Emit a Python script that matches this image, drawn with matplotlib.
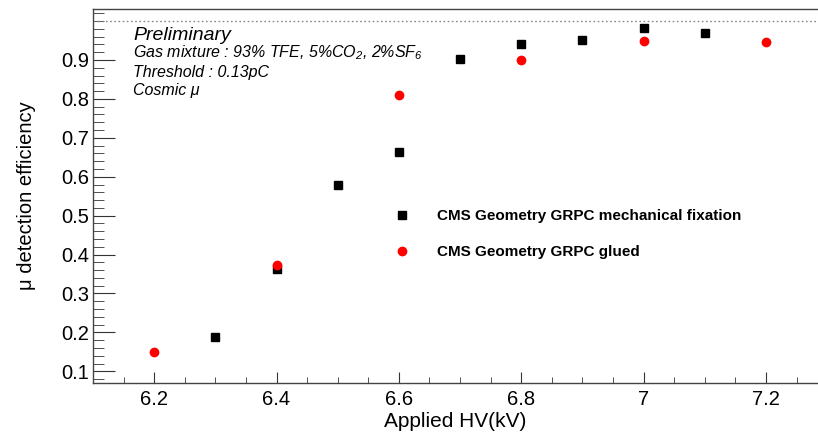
import numpy as np
import matplotlib
matplotlib.use("Agg")
import matplotlib.pyplot as plt
from matplotlib.ticker import MultipleLocator, FixedLocator, FuncFormatter

plt.rcParams['font.family'] = ['Liberation Sans', 'DejaVu Sans']
plt.rcParams['mathtext.fontset'] = 'custom'
plt.rcParams['mathtext.rm'] = 'Liberation Sans:italic'
plt.rcParams['mathtext.it'] = 'Liberation Sans:italic'

# mechanical fixation (black squares)
hv_mech = [6.3, 6.4, 6.5, 6.6, 6.7, 6.8, 6.9, 7.0, 7.1]
eff_mech = [0.188, 0.362, 0.578, 0.663, 0.902, 0.940, 0.951, 0.982, 0.969]

# glued (red circles)
hv_glued = [6.2, 6.4, 6.6, 6.8, 7.0, 7.2]
eff_glued = [0.149, 0.373, 0.810, 0.900, 0.950, 0.946]

label_mech = "CMS Geometry GRPC mechanical fixation"
label_glued = "CMS Geometry GRPC glued"

fig = plt.figure(figsize=(8.18, 4.32), dpi=100)
ax = fig.add_axes([93/818, 49/432, 1 - 93/818, (383-9)/432])

ax.plot(hv_mech, eff_mech, ls='none', marker='s', ms=6.2, color='black', label=label_mech)
ax.plot(hv_glued, eff_glued, ls='none', marker='o', ms=6.0, color='red', label=label_glued)
ax.axhline(1.0, ls=(0, (1.2, 1.8)), color='#888888', lw=1)

ax.set_xlim(6.1, 7.285)
ax.set_ylim(0.07, 1.031)

ax.xaxis.set_major_locator(FixedLocator([6.2, 6.4, 6.6, 6.8, 7.0, 7.2]))
ax.xaxis.set_minor_locator(MultipleLocator(0.05))
ax.xaxis.set_major_formatter(FuncFormatter(lambda v, p: '%g' % round(v, 2)))
ax.yaxis.set_major_locator(FixedLocator([0.1, 0.2, 0.3, 0.4, 0.5, 0.6, 0.7, 0.8, 0.9]))
ax.yaxis.set_minor_locator(FixedLocator(np.arange(0.08, 1.03, 0.02)))
ax.yaxis.set_major_formatter(FuncFormatter(lambda v, p: '%g' % round(v, 2)))

ax.tick_params(axis='both', which='both', direction='in', labelsize=14.5, colors='#333333', labelcolor='black')
ax.tick_params(axis='y', which='major', length=16, pad=3)
ax.tick_params(axis='y', which='minor', length=8)
ax.tick_params(axis='x', which='major', length=8, pad=5)
ax.tick_params(axis='x', which='minor', length=4)

for s in ['top', 'bottom', 'left']:
    ax.spines[s].set_color('#444444')
    ax.spines[s].set_linewidth(1)
ax.spines['right'].set_visible(False)

ax.set_xlabel("Applied HV(kV)", fontsize=15, labelpad=2)
ax.set_ylabel("μ detection efficiency", fontsize=14.5, labelpad=18)

ax.text(133/818, 1 - 35/432, "Preliminary", transform=fig.transFigure, fontsize=14,
        style='italic', va='center')
ax.text(133/818, 1 - 53/432, r"Gas mixture : 93% TFE, 5%CO$_{2}$, 2%SF$_{6}$",
        transform=fig.transFigure, fontsize=11.5, style='italic', va='center')
ax.text(133/818, 1 - 72/432, "Threshold : 0.13pC", transform=fig.transFigure,
        fontsize=11.5, style='italic', va='center')
ax.text(133/818, 1 - 91/432, "Cosmic μ", transform=fig.transFigure, fontsize=11.5,
        style='italic', va='center')

leg = ax.legend(loc='upper left', bbox_to_anchor=(388/818, 1 - 203/432),
                bbox_transform=fig.transFigure, frameon=False,
                prop={'weight': 'bold', 'size': 11}, handlelength=1.0,
                handletextpad=1.8, labelspacing=1.45, borderaxespad=0)

fig.savefig("out.png", dpi=100)
